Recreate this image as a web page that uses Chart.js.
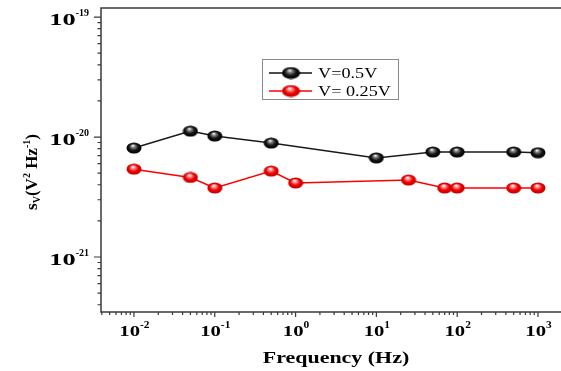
<!DOCTYPE html>
<html>
<head>
<meta charset="utf-8">
<script src="https://cdn.jsdelivr.net/npm/chart.js@4/dist/chart.umd.min.js"></script>
<style>
html, body { margin: 0; padding: 0; background: #fff; }
</style>
</head>
<body>
<canvas id="chart" width="561" height="371"></canvas>
<script>
// data
const freqA = [0.01, 0.05, 0.1, 0.5, 10, 50, 100, 500, 1000];
const noiseA = [8.1e-21, 1.12e-20, 1.02e-20, 8.9e-21, 6.7e-21, 7.5e-21, 7.5e-21, 7.5e-21, 7.4e-21];
const freqB = [0.01, 0.05, 0.1, 0.5, 1, 25, 70, 100, 500, 1000];
const noiseB = [5.4e-21, 4.6e-21, 3.76e-21, 5.2e-21, 4.14e-21, 4.38e-21, 3.76e-21, 3.76e-21, 3.76e-21, 3.76e-21];
const seriesLabels = ['V=0.5V', 'V= 0.25V'];
const xTickExps = [-2, -1, 0, 1, 2, 3];
const yTickExps = [-21, -20, -19];

const FONT = '"Liberation Serif", "Times New Roman", serif';

function sphere(w, h, base, light, dark) {
    const c = document.createElement('canvas');
    c.width = w;
    c.height = h;
    const g = c.getContext('2d');
    const r = w / 2 - 0.5;
    g.translate(w / 2, h / 2);
    g.scale(1, (h / 2 - 0.5) / r);
    const grad = g.createRadialGradient(-r * 0.15, -r * 0.45, 0.3, 0, 0, r);
    grad.addColorStop(0, '#ffffff');
    grad.addColorStop(0.22, light);
    grad.addColorStop(0.6, base);
    grad.addColorStop(1, dark);
    g.fillStyle = grad;
    g.beginPath();
    g.arc(0, 0, r, 0, Math.PI * 2);
    g.fill();
    return c;
}

const blackBall = sphere(16, 12, '#151515', '#8a8a8a', '#000');
const redBall = sphere(16, 12, '#f20000', '#ff9a9a', '#c00000');
const blackBallLg = sphere(19, 13, '#151515', '#8a8a8a', '#000');
const redBallLg = sphere(19, 13, '#f20000', '#ff9a9a', '#c00000');

function toPoints(xs, ys) {
    return xs.map((x, i) => ({ x: x, y: ys[i] }));
}

// text made of pieces (base, superscript...) each with its own size, shift and stretch
function drawParts(ctx, parts, x, y, align) {
    let total = 0;
    parts.forEach(p => {
        ctx.font = (p.weight || 'bold') + ' ' + p.size + 'px ' + FONT;
        p.w = ctx.measureText(p.text).width * (p.sx || 1);
        total += p.w;
    });
    let cx = align === 'right' ? x - total : align === 'center' ? x - total / 2 : x;
    parts.forEach(p => {
        ctx.save();
        ctx.font = (p.weight || 'bold') + ' ' + p.size + 'px ' + FONT;
        ctx.translate(cx, y + (p.dy || 0));
        ctx.scale(p.sx || 1, 1);
        ctx.fillText(p.text, 0, 0);
        ctx.restore();
        cx += p.w;
    });
}

function logTicks(scale) {
    const out = [];
    const lo = Math.floor(Math.log10(scale.min));
    const hi = Math.ceil(Math.log10(scale.max));
    for (let e = lo; e <= hi; e++) {
        for (let k = 1; k <= 9; k++) {
            const v = k * Math.pow(10, e);
            if (v >= scale.min && v <= scale.max) out.push({ px: scale.getPixelForValue(v), major: k === 1 });
        }
    }
    return out;
}

const axesPlugin = {
    id: 'axesPlugin',
    beforeDatasetsDraw(chart) {
        const ctx = chart.ctx;
        const a = chart.chartArea;
        const xs = chart.scales.x;
        const ys = chart.scales.y;
        ctx.save();
        ctx.strokeStyle = '#3a3a3a';
        ctx.lineWidth = 1.5;
        ctx.beginPath();
        ctx.moveTo(a.right, a.top);
        ctx.lineTo(a.left, a.top);
        ctx.lineTo(a.left, a.bottom);
        ctx.lineTo(a.right, a.bottom);
        ctx.stroke();

        ctx.lineWidth = 1.2;
        ctx.beginPath();
        logTicks(ys).forEach(t => {
            ctx.moveTo(a.left, t.px);
            ctx.lineTo(a.left - (t.major ? 7 : 3.5), t.px);
        });
        logTicks(xs).forEach(t => {
            ctx.moveTo(t.px, a.bottom);
            ctx.lineTo(t.px, a.bottom + (t.major ? 5 : 3));
        });
        ctx.stroke();

        ctx.fillStyle = '#000';
        ctx.textBaseline = 'alphabetic';
        ctx.textAlign = 'left';
        yTickExps.forEach(e => {
            const py = ys.getPixelForValue(Math.pow(10, e));
            drawParts(ctx, [
                { text: '10', size: 16, sx: 1.65 },
                { text: String(e), size: 9.5, dy: -9, sx: 1.05 }
            ], 89, py + 7.5, 'right');
        });
        xTickExps.forEach(e => {
            const px = xs.getPixelForValue(Math.pow(10, e));
            drawParts(ctx, [
                { text: '10', size: 15, sx: 1.38 },
                { text: String(e), size: 9.5, dy: -8, sx: 1.2 }
            ], px + 0.5, a.bottom + 24, 'center');
        });

        drawParts(ctx, [{ text: 'Frequency (Hz)', size: 17, sx: 1.29 }], 336, 363, 'center');

        ctx.save();
        ctx.translate(37, 172);
        ctx.rotate(-Math.PI / 2);
        drawParts(ctx, [
            { text: 's', size: 17 },
            { text: 'V', size: 10, dy: 3 },
            { text: '(V', size: 17 },
            { text: '2', size: 10, dy: -7 },
            { text: ' Hz', size: 17 },
            { text: '-1', size: 10, dy: -7 },
            { text: ')', size: 17 }
        ], 0, 0, 'center');
        ctx.restore();
        ctx.restore();
    },
    afterDraw(chart) {
        const ctx = chart.ctx;
        ctx.save();
        ctx.strokeStyle = '#8a8a8a';
        ctx.lineWidth = 1;
        ctx.strokeRect(262.5, 59.5, 136, 40);
        const rows = [
            { y: 73, color: '#111', img: blackBallLg },
            { y: 91, color: '#ff0000', img: redBallLg }
        ];
        rows.forEach((r, i) => {
            ctx.strokeStyle = r.color;
            ctx.lineWidth = 1.5;
            ctx.beginPath();
            ctx.moveTo(269, r.y);
            ctx.lineTo(312, r.y);
            ctx.stroke();
            ctx.drawImage(r.img, 291 - r.img.width / 2, r.y - r.img.height / 2);
            ctx.fillStyle = '#000';
            drawParts(ctx, [{ text: seriesLabels[i], size: 14, sx: 1.3, weight: 'normal' }], 318, r.y + 5, 'left');
        });
        ctx.restore();
    }
};

new Chart(document.getElementById('chart'), {
    type: 'line',
    data: {
        datasets: [
            {
                label: seriesLabels[0],
                data: toPoints(freqA, noiseA),
                borderColor: '#1a1a1a',
                borderWidth: 1.5,
                tension: 0,
                pointStyle: blackBall,
                pointRadius: 7,
                clip: false
            },
            {
                label: seriesLabels[1],
                data: toPoints(freqB, noiseB),
                borderColor: '#ff0000',
                borderWidth: 1.5,
                tension: 0,
                pointStyle: redBall,
                pointRadius: 7,
                clip: false
            }
        ]
    },
    options: {
        responsive: false,
        animation: false,
        layout: { autoPadding: false, padding: { left: 101, top: 8, right: 0, bottom: 59 } },
        plugins: {
            legend: { display: false },
            tooltip: { enabled: false }
        },
        scales: {
            x: { type: 'logarithmic', bounds: 'data', min: 0.00391, max: 1927, display: false },
            y: { type: 'logarithmic', bounds: 'data', min: 3.48e-22, max: 1.19e-19, display: false }
        }
    },
    plugins: [axesPlugin]
});
</script>
</body>
</html>
